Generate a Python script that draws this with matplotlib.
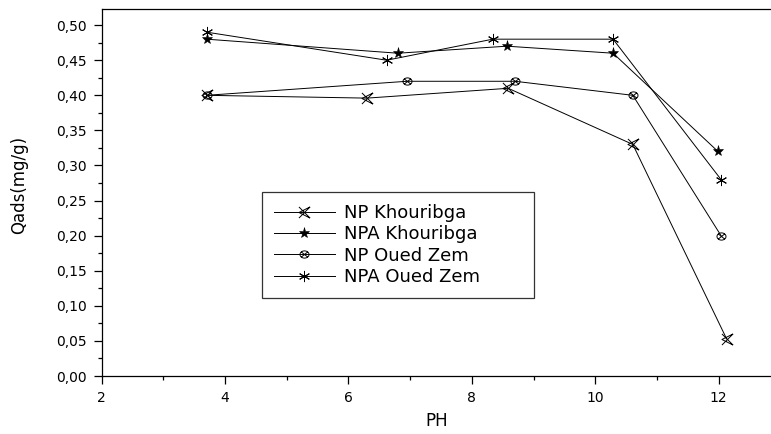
import numpy as np
import matplotlib
matplotlib.use('Agg')
import matplotlib.pyplot as plt
from matplotlib.path import Path
from matplotlib.ticker import MultipleLocator, FuncFormatter

plt.rcParams['font.family'] = ['DejaVu Sans']

# data
ph_np_kh = [3.7, 6.3, 8.59, 10.61, 12.13]
q_np_kh = [0.40, 0.396, 0.41, 0.33, 0.053]

ph_npa_kh = [3.7, 6.8, 8.57, 10.29, 11.99]
q_npa_kh = [0.48, 0.46, 0.47, 0.46, 0.32]

ph_np_oz = [3.7, 6.95, 8.7, 10.61, 12.04]
q_np_oz = [0.40, 0.42, 0.42, 0.40, 0.20]

ph_npa_oz = [3.7, 6.62, 8.34, 10.29, 12.04]
q_npa_oz = [0.49, 0.45, 0.48, 0.48, 0.28]

labels = ["NP Khouribga", "NPA Khouribga", "NP Oued Zem", "NPA Oued Zem"]

# X with a left-pointing triangle
tri_x = Path([(-1, -1), (1, 1), (-1, 1), (1, -1),
              (1, 1), (-1, 0), (1, -1)],
             [Path.MOVETO, Path.LINETO, Path.MOVETO, Path.LINETO,
              Path.MOVETO, Path.LINETO, Path.LINETO])
# flat circle with X
t = np.linspace(0, 2 * np.pi, 40)
circ = [(np.cos(a), np.sin(a) * 0.8) for a in t]
k = 0.707
circ_x = Path(circ + [(-k, -k * 0.8), (k, k * 0.8), (-k, k * 0.8), (k, -k * 0.8)],
              [Path.MOVETO] + [Path.LINETO] * 39 +
              [Path.MOVETO, Path.LINETO, Path.MOVETO, Path.LINETO])

series = [
    (ph_np_kh, q_np_kh, dict(marker=tri_x, markersize=8, mfc='none', mew=0.7)),
    (ph_npa_kh, q_npa_kh, dict(marker='*', markersize=8, mfc='black', mew=0.4)),
    (ph_np_oz, q_np_oz, dict(marker=circ_x, markersize=6.5, mfc='none', mew=0.7)),
    (ph_npa_oz, q_npa_oz, dict(marker=(6, 2, 0), markersize=8, mew=0.7)),
]

fig = plt.figure(figsize=(7.71, 4.34), dpi=100)
ax = fig.add_axes([101.7 / 771, 58 / 434, 669.3 / 771, 367 / 434])

handles = []
for (x, y, st), lab in zip(series, labels):
    # white dots under the symbols leave a gap in the line
    ax.plot(x, y, linestyle='none', marker='o', markersize=st['markersize'] + 3,
            mfc='white', mec='none', zorder=3)
    h, = ax.plot(x, y, color='black', lw=0.7, mec='black', zorder=4,
                 label=lab, **st)
    handles.append(h)

ax.set_xlim(2, 12.85)
ax.set_ylim(0, 0.523)
ax.xaxis.set_major_locator(MultipleLocator(2))
ax.xaxis.set_minor_locator(MultipleLocator(1))
ax.yaxis.set_major_locator(MultipleLocator(0.05))
ax.yaxis.set_minor_locator(MultipleLocator(0.025))
ax.yaxis.set_major_formatter(FuncFormatter(lambda v, p: f"{v:.2f}".replace('.', ',')))
ax.tick_params(which='both', direction='out', labelsize=10, width=0.9)
ax.tick_params(which='major', length=6, pad=5)
ax.tick_params(which='minor', length=3)
ax.spines['right'].set_visible(False)
for s in ['left', 'bottom', 'top']:
    ax.spines[s].set_linewidth(0.9)

ax.set_xlabel("PH", fontsize=12)
ax.set_ylabel("Qads(mg/g)", fontsize=12)
ax.xaxis.set_label_coords(0.5, -0.098)
ax.yaxis.set_label_coords(-0.11, 0.52)

leg = ax.legend(handles=handles, loc='upper left',
                bbox_to_anchor=(0.2395, 0.218, 0.406, 0.283), mode='expand',
                borderaxespad=0, fontsize=13, frameon=True, fancybox=False,
                handlelength=3.4, handletextpad=0.5, labelspacing=0.19,
                borderpad=0.65)
leg.get_frame().set_edgecolor('black')
leg.get_frame().set_linewidth(0.9)

fig.savefig("out.png", dpi=100)
